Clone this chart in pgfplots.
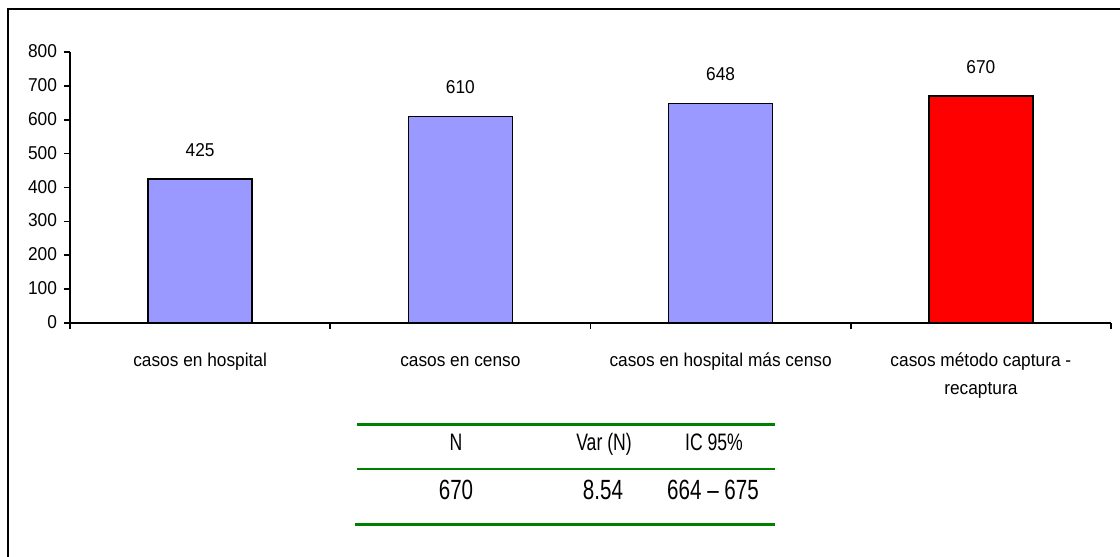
\documentclass[border=0pt]{standalone}
\usepackage{fontspec}
\setmainfont{Liberation Sans}[FakeStretch=0.93]
\newfontfamily\tablefont{Liberation Sans}[FakeStretch=0.74]
\usepackage{pgfplots}
\pgfplotsset{compat=1.18}

\definecolor{barblue}{RGB}{153,153,255}
\definecolor{tablegreen}{RGB}{0,128,0}

\begin{document}
\begin{tikzpicture}
	% frame of the image (1 px = 0.5pt)
	\begin{scope}[x=0.5pt,y=-0.5pt]
		\useasboundingbox (0,0) rectangle (1120,557);
		\draw[line width=1.2pt] (8,557) -- (8,9) -- (1120,9);
	\end{scope}

	\begin{axis}[
		at={(35pt,-161.5pt)}, anchor=south west,
		scale only axis,
		width=520.5pt, height=135.5pt,
		xmin=-0.5, xmax=3.5,
		ymin=0, ymax=800,
		axis x line*=bottom,
		axis y line*=left,
		axis line style={line width=0.9pt},
		font=\fontsize{9.3}{14}\selectfont,
		/pgf/number format/assume math mode=true,
		ytick={0,100,...,800},
		tick align=outside,
		major tick length=3pt,
		tick style={black, line width=0.8pt},
		xtick={-0.5,0.5,1.5,2.5,3.5},
		xticklabels={},
		extra x ticks={0,1,2,3},
		extra x tick labels={casos en hospital, casos en censo, casos en hospital más censo, {casos método captura -\\recaptura}},
		extra x tick style={major tick length=0pt,
			tick label style={align=center, yshift=-8.5pt}},
		typeset ticklabels with strut,
		ybar, bar width=52pt, bar shift=0pt,
		nodes near coords,
		every node near coord/.append style={yshift=7.5pt, font=\fontsize{9.3}{10}\selectfont},
	]
		\addplot[fill=barblue, draw=black, line width=0.8pt]
		coordinates {(0,425)(1,610)(2,648)};
		\addplot[fill=red, draw=black, line width=0.8pt]
		coordinates {(3,670)};
	\end{axis}

	% summary table below the chart
	\begin{scope}[x=0.5pt,y=-0.5pt]
		\draw[tablegreen, line width=1.5pt] (357,424) -- (775,424);
		\draw[tablegreen, line width=1pt] (357,469) -- (775,469);
		\draw[tablegreen, line width=1.5pt] (355,524) -- (775,524);
		\begin{scope}[every node/.style={anchor=base, inner sep=0pt, font=\tablefont\fontsize{11.9}{13}\selectfont}]
			\node at (456,450) {N};
			\node at (604,450) {Var (N)};
			\node at (714,450) {IC 95\%};
		\end{scope}
		\begin{scope}[every node/.style={anchor=base, inner sep=0pt, font=\tablefont\fontsize{13.9}{15}\selectfont}]
			\node at (456,499) {670};
			\node at (603,499) {8.54};
			\node at (713,499) {664 – 675};
		\end{scope}
	\end{scope}
\end{tikzpicture}
\end{document}
